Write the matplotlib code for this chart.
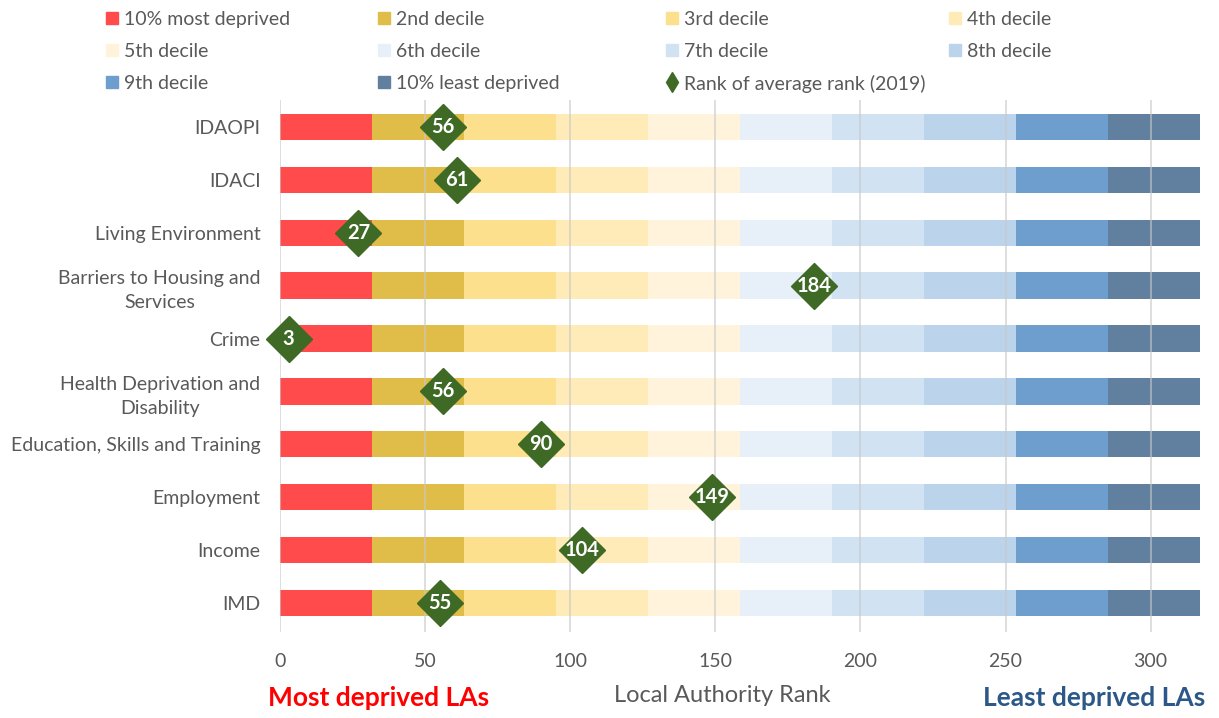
import matplotlib
matplotlib.use("Agg")
import matplotlib.pyplot as plt
from matplotlib.lines import Line2D
import numpy as np

plt.rcParams['font.family'] = ['Lato', 'DejaVu Sans']

categories = ["IDAOPI", "IDACI", "Living Environment", "Barriers to Housing and\nServices",
              "Crime", "Health Deprivation and\nDisability", "Education, Skills and Training",
              "Employment", "Income", "IMD"]
ranks = [56, 61, 27, 184, 3, 56, 90, 149, 104, 55]
decile_names = ["10% most deprived", "2nd decile", "3rd decile", "4th decile", "5th decile",
                "6th decile", "7th decile", "8th decile", "9th decile", "10% least deprived"]
decile_widths = [31.7, 31.7, 31.7, 31.7, 31.7, 31.7, 31.7, 31.7, 31.7, 31.7]
decile_colors = ["#FF4B4B", "#E0BC48", "#FDE08E", "#FEEBB8", "#FFF4DB",
                 "#E7F0F9", "#D1E2F2", "#BBD4EC", "#6D9ECE", "#61809F"]
xticks = [0, 50, 100, 150, 200, 250, 300]

W, H = 1219, 718
fig = plt.figure(figsize=(W / 100, H / 100), dpi=100)
ax = fig.add_axes([280 / W, 1 - 632 / H, (1200 - 280) / W, (632 - 100) / H])

y = np.arange(len(categories))
left = np.zeros(len(categories))
for w, c in zip(decile_widths, decile_colors):
    ax.barh(y, [w] * len(categories), left=left, height=0.5, color=c, zorder=2)
    left = left + w

for xv in xticks:
    ax.axvline(xv, color="#C8C8C8", lw=1.2, alpha=0.7, zorder=3)

ax.plot(ranks, y, linestyle="none", marker="D", markersize=23, color="#3E6A25",
        markeredgecolor="#3E6A25", zorder=5, clip_on=False)
for r, yy in zip(ranks, y):
    ax.text(r, yy, str(r), ha="center", va="center", color="white", fontsize=14.5,
            fontweight="bold", zorder=6, clip_on=False)

ax.set_xlim(0, sum(decile_widths))
ax.set_ylim(9.55, -0.51)
ax.set_yticks(y)
ax.set_yticklabels(categories, fontsize=14, color="#595959", multialignment="center",
                   linespacing=1.5)
ax.set_xticks(xticks)
ax.set_xticklabels([str(t) for t in xticks], fontsize=14, color="#595959")
ax.tick_params(axis="y", length=0, pad=14)
ax.tick_params(axis="x", length=0, pad=15)
for s in ax.spines.values():
    s.set_visible(False)

# bottom texts
fig.text(268 / W, 1 - 698 / H, "Most deprived LAs", color="#FF0000", fontsize=19,
         fontweight="bold", ha="left", va="center")
fig.text(722 / W, 1 - 696 / H, "Local Authority Rank", color="#595959", fontsize=17,
         ha="center", va="center")
fig.text(1205 / W, 1 - 698 / H, "Least deprived LAs", color="#2B5887", fontsize=19,
         fontweight="bold", ha="right", va="center")

# legend (manual, row-major layout)
col_x = [112, 384, 672, 955]
row_y = [18, 50, 82]
items = [(n, c, "s") for n, c in zip(decile_names, decile_colors)] + \
        [("Rank of average rank (2019)", "#3E6A25", "d")]
for i, (name, color, mk) in enumerate(items):
    r, cidx = divmod(i, 4)
    xm, ym = col_x[cidx] / W, 1 - row_y[r] / H
    fig.add_artist(Line2D([xm], [ym], transform=fig.transFigure, marker=mk,
                          markersize=9 if mk == "s" else 10, color=color, linestyle="none"))
    fig.text(xm + 12 / W, ym, name, color="#595959", fontsize=14, ha="left",
             va="center_baseline")

fig.savefig("out.png", dpi=100)
